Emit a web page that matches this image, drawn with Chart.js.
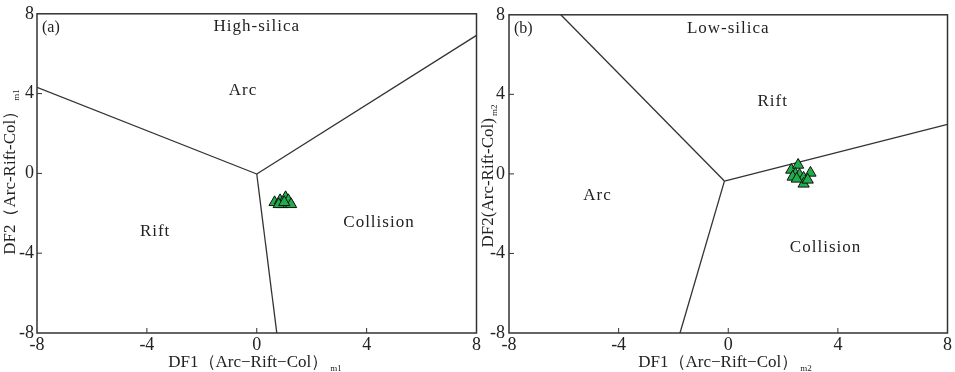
<!DOCTYPE html>
<html>
<head>
<meta charset="utf-8">
<script src="https://cdn.jsdelivr.net/npm/chart.js@4.4.1/dist/chart.umd.min.js"></script>
<style>
  html, body { margin: 0; padding: 0; background: #fff; }
  #wrap { position: relative; width: 955px; height: 372px; overflow: hidden; }
  canvas { position: absolute; top: 0; }
  #ch_a { left: 0; }
  #ch_b { left: 480px; }
</style>
</head>
<body>
<div id="wrap">
  <canvas id="ch_a" width="484" height="372"></canvas>
  <canvas id="ch_b" width="475" height="372"></canvas>
</div>
<script>
/* ── shared axis ticks ──────────────────────────────────────────── */
const tickValues = [-8, -4, 0, 4, 8];

/* ── (a) High-silica: field boundaries + samples ────────────────── */
const aCentre = [0, -0.03];
const aLineLeft = [[-8, 4.31], aCentre];
const aLineRight = [aCentre, [8, 6.92]];
const aLineDown = [aCentre, [0.73, -8]];
const aSamples = [
  [0.65, -1.45], [0.85, -1.35], [0.95, -1.55], [1.05, -1.2],
  [1.15, -1.35], [1.25, -1.55], [0.8, -1.55], [1.0, -1.45]
];
const aLabels = [
  ['High-silica', 0, 7.35], ['Arc', -0.5, 4.15],
  ['Rift', -3.7, -2.9], ['Collision', 4.45, -2.45]
];

/* ── (b) Low-silica ─────────────────────────────────────────────── */
const bCentre = [-0.14, -0.36];
const bLineLeft = [[-6.11, 8], bCentre];
const bLineRight = [bCentre, [8, 2.49]];
const bLineDown = [bCentre, [-1.76, -8]];
const bSamples = [
  [2.3, 0.2], [2.55, 0.45], [2.45, 0.0], [2.35, -0.15], [2.6, -0.05],
  [2.75, -0.2], [2.75, -0.5], [3.0, 0.05], [2.9, -0.3], [2.5, -0.25]
];
const bLabels = [
  ['Low-silica', 0.0, 7.3], ['Rift', 1.62, 3.65],
  ['Arc', -4.77, -1.1], ['Collision', 3.55, -3.72]
];

const FONT = '"Liberation Serif", "Times New Roman", serif';
const INK = '#222';

function pts(arr) { return arr.map(p => ({ x: p[0], y: p[1] })); }

// frame, inner tick marks, field names, panel letter and axis titles
const overlay = {
  id: 'overlay',
  afterDatasetsDraw(chart, args, o) {
    const { ctx, chartArea: a, scales: { x, y } } = chart;
    ctx.save();
    ctx.strokeStyle = '#333';
    ctx.lineWidth = 1.5;
    ctx.strokeRect(a.left, a.top, a.width, a.height);

    ctx.lineWidth = 1;
    ctx.beginPath();
    tickValues.slice(1, -1).forEach(v => {
      const px = x.getPixelForValue(v), py = y.getPixelForValue(v);
      ctx.moveTo(px, a.bottom); ctx.lineTo(px, a.bottom - 5);
      ctx.moveTo(a.left, py); ctx.lineTo(a.left + 5, py);
    });
    ctx.stroke();

    ctx.fillStyle = INK;
    ctx.textAlign = 'center';
    ctx.textBaseline = 'middle';
    ctx.font = '17px ' + FONT;
    ctx.letterSpacing = '1px';
    o.labels.forEach(l => ctx.fillText(l[0], x.getPixelForValue(l[1]), y.getPixelForValue(l[2])));
    ctx.letterSpacing = '0px';

    ctx.textAlign = 'left';
    ctx.font = '16px ' + FONT;
    ctx.fillText(o.letter, a.left + 5, a.top + 14);

    // axis titles with subscript
    const drawTitle = (main, sub, cx, base) => {
      ctx.font = '17px ' + FONT;
      const w1 = ctx.measureText(main).width;
      ctx.font = '9px ' + FONT;
      const w2 = ctx.measureText(sub).width;
      const x0 = cx - (w1 + w2 + 2) / 2;
      ctx.textBaseline = 'alphabetic';
      ctx.font = '17px ' + FONT;
      ctx.fillText(main, x0, base);
      ctx.font = '9px ' + FONT;
      ctx.fillText(sub, x0 + w1 + 2, base + 4);
    };
    drawTitle(o.xTitle, o.sub, o.xTitleX, 367);
    ctx.translate(o.yTitleX, o.yTitleY);
    ctx.rotate(-Math.PI / 2);
    drawTitle(o.yTitle, o.sub, 0, 0);
    ctx.restore();
  }
};

function drawPanel(id, cfg) {
  const lineSet = d => ({
    type: 'line', data: pts(d), borderColor: '#333', borderWidth: 1.3,
    pointRadius: 0, fill: false, showLine: true, order: 2
  });
  return new Chart(document.getElementById(id).getContext('2d'), {
    type: 'scatter',
    data: {
      datasets: [
        lineSet(cfg.lines[0]), lineSet(cfg.lines[1]), lineSet(cfg.lines[2]),
        {
          label: 'samples',
          data: pts(cfg.samples),
          pointStyle: 'triangle',
          pointRadius: 6.5,
          pointBackgroundColor: '#1fae4b',
          pointBorderColor: '#111',
          pointBorderWidth: 1,
          order: 1
        }
      ]
    },
    options: {
      responsive: false,
      animation: false,
      devicePixelRatio: 1,
      layout: { padding: { top: 8, right: cfg.padRight, left: 0, bottom: 0 } },
      plugins: {
        legend: { display: false },
        tooltip: { enabled: false },
        overlay: cfg.overlay
      },
      scales: {
        x: {
          type: 'linear', min: -8, max: 8,
          afterBuildTicks: s => { s.ticks = tickValues.map(v => ({ value: v })); },
          afterFit: s => { s.height = 39; },
          grid: { display: false, drawTicks: false }, border: { display: false },
          ticks: { padding: 1, color: INK, font: { family: FONT, size: 18 } }
        },
        y: {
          type: 'linear', min: -8, max: 8,
          afterBuildTicks: s => { s.ticks = tickValues.map(v => ({ value: v })); },
          afterFit: s => { s.width = cfg.yWidth; },
          grid: { display: false, drawTicks: false }, border: { display: false },
          ticks: { padding: cfg.yPad, color: INK, font: { family: FONT, size: 18 } }
        }
      }
    },
    plugins: [overlay]
  });
}

drawPanel('ch_a', {
  lines: [aLineLeft, aLineRight, aLineDown],
  samples: aSamples,
  padRight: 7,
  yWidth: 37,
  yPad: 3,
  overlay: {
    labels: aLabels, letter: '(a)',
    xTitle: 'DF1（Arc−Rift−Col）', yTitle: 'DF2（Arc-Rift-Col）', sub: 'm1',
    xTitleX: 255, yTitleX: 15, yTitleY: 172
  }
});

drawPanel('ch_b', {
  lines: [bLineLeft, bLineRight, bLineDown],
  samples: bSamples,
  padRight: 5,
  yWidth: 29,
  yPad: 4,
  overlay: {
    labels: bLabels, letter: '(b)',
    xTitle: 'DF1（Arc−Rift−Col）', yTitle: 'DF2(Arc-Rift-Col)', sub: 'm2',
    xTitleX: 245, yTitleX: 13, yTitleY: 176
  }
});
</script>
</body>
</html>
